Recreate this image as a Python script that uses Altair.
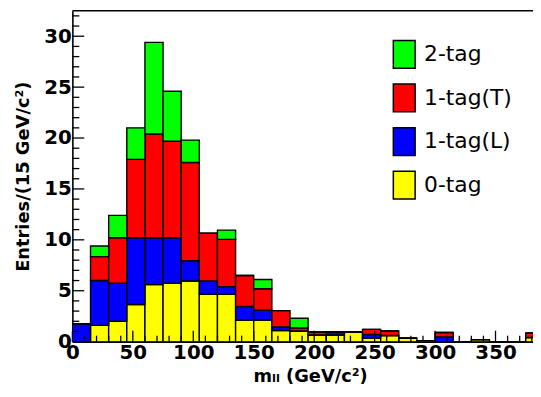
import altair as alt
import pandas as pd

# bin lower edges (15 GeV bins)
bin_lo = [0, 15, 30, 45, 60, 75, 90, 105, 120, 135, 150, 165, 180, 195, 210,
          225, 240, 255, 270, 285, 300, 315, 330, 345, 360, 375]
bin_w = 15

series = ["0-tag", "1-tag(L)", "1-tag(T)", "2-tag"]
colors = {"2-tag": "#00ff00", "1-tag(T)": "#ff0000", "1-tag(L)": "#0000ff", "0-tag": "#ffff00"}

tag0 = [0, 1.6, 2.0, 3.65, 5.6, 5.75, 5.95, 4.65, 4.65, 2.1, 2.1, 1.1, 1.05, 0.65,
        0.65, 0.95, 0.35, 0.6, 0.35, 0.1, 0, 0, 0.2, 0, 0, 0.4]
tag1L = [1.75, 4.4, 3.75, 6.55, 4.6, 4.45, 2.0, 1.3, 0.75, 1.35, 1.0, 0.35, 0, 0,
         0.3, 0, 0.35, 0, 0, 0, 0.45, 0, 0, 0, 0, 0]
tag1T = [0, 2.35, 4.45, 7.7, 10.2, 9.5, 9.65, 4.7, 4.65, 3.05, 2.1, 1.6, 0.3, 0.3,
         0, 0, 0.5, 0.45, 0, 0, 0.45, 0, 0, 0, 0, 0.45]
tag2 = [0, 1.05, 2.2, 3.1, 9.0, 4.9, 2.2, 0, 0.9, 0, 0.9, 0, 0.95, 0,
        0, 0, 0, 0, 0, 0, 0, 0, 0, 0, 0, 0]

x_major = [0, 50, 100, 150, 200, 250, 300, 350]
x_minor = [v for v in range(0, 390, 10) if v % 50 != 0]
y_major = [0, 5, 10, 15, 20, 25, 30]
y_minor = [v for v in range(0, 33) if v % 5 != 0]

X_MAX = 381
Y_MAX = 32.5
W = 465
H = 334

rows = []
vals = {"0-tag": tag0, "1-tag(L)": tag1L, "1-tag(T)": tag1T, "2-tag": tag2}
for rank, s in enumerate(series):
    for lo, v in zip(bin_lo, vals[s]):
        rows.append({"lo": lo, "hi": lo + bin_w, "tag": s, "rank": rank, "n": v})
df = pd.DataFrame(rows)

xs = alt.Scale(domain=[0, X_MAX], nice=False, zero=False)
ys = alt.Scale(domain=[0, Y_MAX], nice=False)

legend_order = ["2-tag", "1-tag(T)", "1-tag(L)", "0-tag"]

bars = alt.Chart(df).transform_stack(
    stack="n", as_=["s0", "s1"], groupby=["lo"], sort=[alt.SortField("rank", order="ascending")]
).mark_rect(stroke="black", strokeWidth=1.4, clip=True).encode(
    x=alt.X("lo:Q", scale=xs,
            axis=alt.Axis(values=x_major, ticks=False, grid=False, domainColor="black",
                          domainWidth=1.6, labelFont="DejaVu Sans", labelFontWeight="bold",
                          labelFontSize=20, labelColor="black", labelPadding=1,
                          title="mₗₗ (GeV/c²)", titleFont="DejaVu Sans", titleFontWeight="bold",
                          titleFontSize=18, titleColor="black", titleX=240, titleY=26,
                          titleBaseline="top", labelFlush=False)),
    x2="hi:Q",
    y=alt.Y("s0:Q", scale=ys,
            axis=alt.Axis(values=y_major, ticks=False, grid=False, domainColor="black",
                          domainWidth=1.6, labelFont="DejaVu Sans", labelFontWeight="bold",
                          labelFontSize=20, labelColor="black", labelPadding=1,
                          title="Entries/(15 GeV/c²)", titleFont="DejaVu Sans",
                          titleFontWeight="bold", titleFontSize=18, titleColor="black",
                          titleX=-49, titleY=H / 2, titleBaseline="middle",
                          titleAlign="center", labelFlush=False)),
    y2="s1:Q",
    fill=alt.Fill("tag:N", scale=alt.Scale(domain=legend_order,
                                            range=[colors[t] for t in legend_order]),
                  legend=alt.Legend(title=None, orient="none", legendX=320, legendY=29,
                                    symbolType="M-0.786,-1H0.786V1H-0.786Z",
                                    symbolSize=784, symbolStrokeColor="black",
                                    symbolStrokeWidth=1.5, symbolOpacity=1,
                                    labelFont="DejaVu Sans", labelFontSize=22,
                                    labelColor="black", labelOffset=5, rowPadding=10,
                                    padding=0)),
)

xmaj = alt.Chart(pd.DataFrame({"v": x_major})).mark_rule(color="black", strokeWidth=1.3).encode(
    x=alt.X("v:Q", scale=xs), y=alt.value(H), y2=alt.value(H - 11))
xmin = alt.Chart(pd.DataFrame({"v": x_minor})).mark_rule(color="black", strokeWidth=1.3).encode(
    x=alt.X("v:Q", scale=xs), y=alt.value(H), y2=alt.value(H - 6))
ymaj = alt.Chart(pd.DataFrame({"v": y_major})).mark_rule(color="black", strokeWidth=1.3).encode(
    y=alt.Y("v:Q", scale=ys), x=alt.value(0), x2=alt.value(12))
ymin = alt.Chart(pd.DataFrame({"v": y_minor})).mark_rule(color="black", strokeWidth=1.3).encode(
    y=alt.Y("v:Q", scale=ys), x=alt.value(0), x2=alt.value(7))
top = alt.Chart(pd.DataFrame({"a": [0], "b": [X_MAX], "t": [Y_MAX]})).mark_rule(
    color="black", strokeWidth=1.6).encode(
    x=alt.X("a:Q", scale=xs), x2="b:Q", y=alt.Y("t:Q", scale=ys))

chart = alt.layer(bars, xmaj, xmin, ymaj, ymin, top).properties(
    width=W, height=H,
    autosize=alt.AutoSizeParams(type="none"),
    padding={"left": 65, "top": 1, "right": 0, "bottom": 45},
    background="white",
).configure_view(stroke=None)

chart.save("out.html", embed_options={"renderer": "svg", "actions": False})
